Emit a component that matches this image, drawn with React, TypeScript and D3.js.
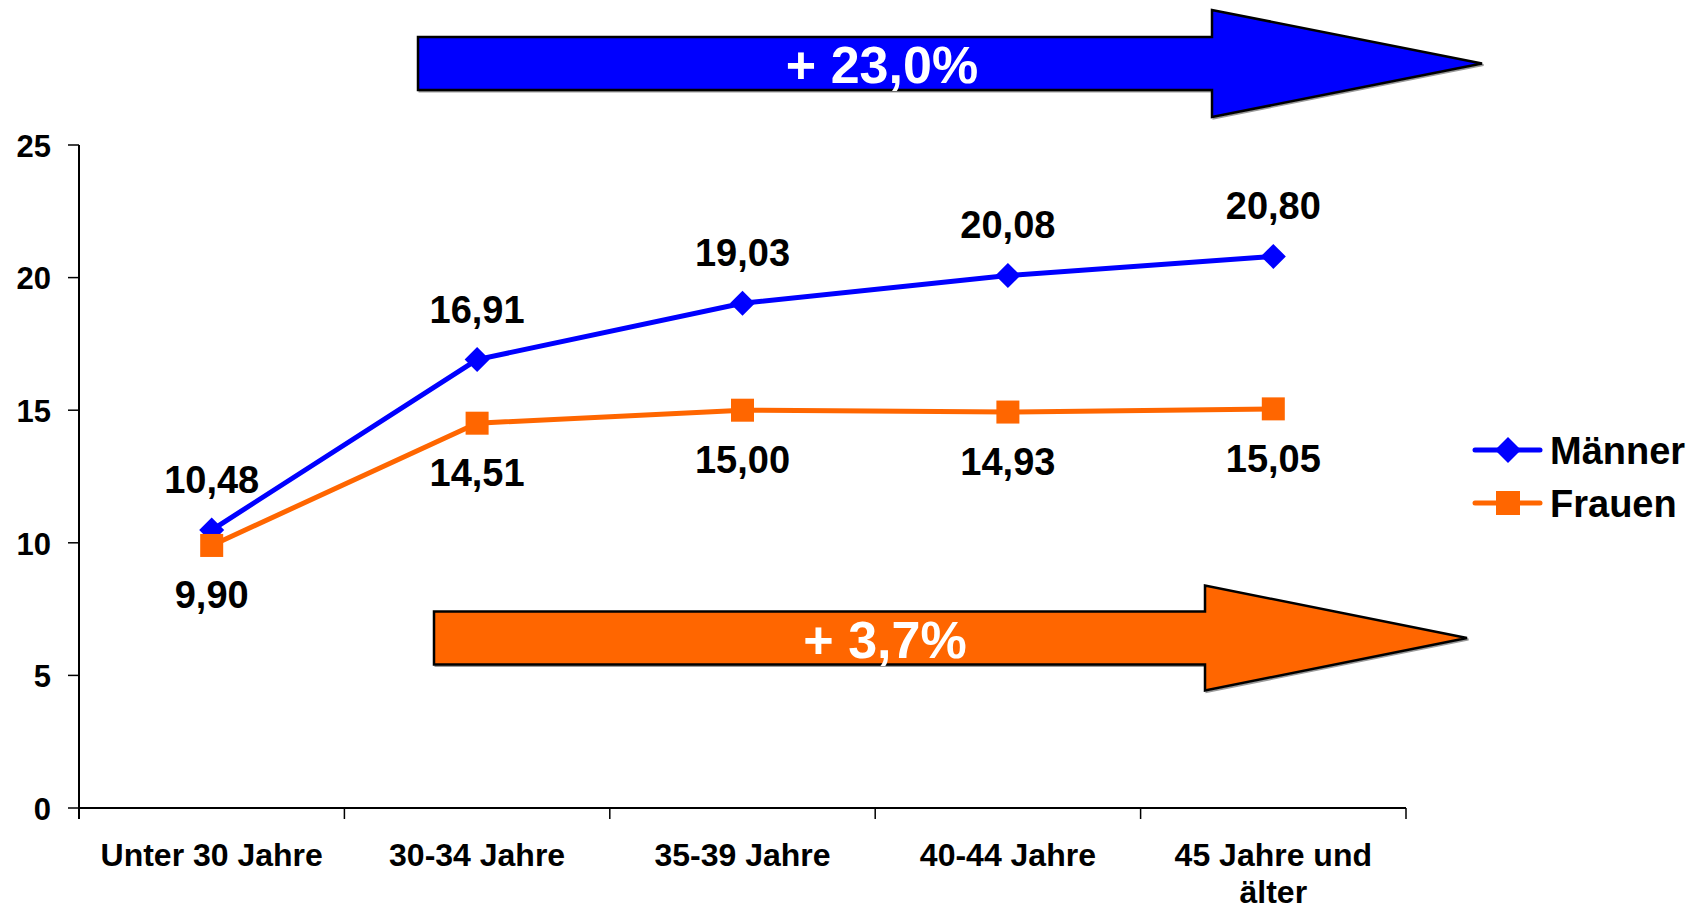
import React from "react";
import * as d3 from "d3";

const categories = ["Unter 30 Jahre", "30-34 Jahre", "35-39 Jahre", "40-44 Jahre", "45 Jahre und\nälter"];
const maenner = [10.48, 16.91, 19.03, 20.08, 20.8];
const frauen = [9.9, 14.51, 15.0, 14.93, 15.05];
const yTicks = [0, 5, 10, 15, 20, 25];
const seriesNames = ["Männer", "Frauen"];
const changeLabels = ["+ 23,0%", "+ 3,7%"];

const W = 1700;
const H = 912;
const m = { t: 145, r: 294, b: 104, l: 79 };
const FONT = "'Liberation Sans', Arial, Helvetica, sans-serif";
const BLUE = "#0000ff";
const ORANGE = "#ff6600";

const de = d3.formatLocale({ decimal: ",", thousands: ".", grouping: [3], currency: ["", " €"] });
const fmt = de.format(".2f");

// arrow outline: body from x0 to notch, head to the tip
const arrowPath = (x0: number, notch: number, tip: number, cy: number, bodyH: number, headH: number) => {
    const p = d3.path();
    p.moveTo(x0, cy - bodyH / 2);
    p.lineTo(notch, cy - bodyH / 2);
    p.lineTo(notch, cy - headH / 2);
    p.lineTo(tip, cy);
    p.lineTo(notch, cy + headH / 2);
    p.lineTo(notch, cy + bodyH / 2);
    p.lineTo(x0, cy + bodyH / 2);
    p.closePath();
    return p.toString();
};

const Diamond = ({ x, y, r, fill }: { x: number; y: number; r: number; fill: string }) => (
    <path d={`M${x},${y - r}L${x + r},${y}L${x},${y + r}L${x - r},${y}Z`} fill={fill} />
);

export default function App() {
    const x = d3.scaleBand<number>()
        .domain(d3.range(categories.length))
        .range([m.l, W - m.r]);
    const y = d3.scaleLinear().domain([0, 25]).range([H - m.b, m.t]);
    const cx = (i: number) => (x(i) as number) + x.bandwidth() / 2;

    const line = d3.line<number>()
        .x((_, i) => cx(i))
        .y((d) => y(d));

    const boundaries = d3.range(categories.length + 1).map((i) => m.l + i * x.bandwidth());

    const arrows = [
        { x0: 418, notch: 1212, tip: 1482, cy: 63.5, bodyH: 53, headH: 107, fill: BLUE, tx: 882, ty: 83 },
        { x0: 434, notch: 1205, tip: 1467, cy: 638, bodyH: 53, headH: 105, fill: ORANGE, tx: 885, ty: 658 },
    ];

    return (
        <svg width={W} height={H} style={{ position: "absolute", left: 0, top: 0 }} fontFamily={FONT} fontWeight="bold">
            <rect width={W} height={H} fill="#fff" />

            {/* y axis */}
            <line x1={m.l} x2={m.l} y1={y(25)} y2={y(0) + 11} stroke="#000" strokeWidth={2} />
            {yTicks.map((t) => (
                <g key={t}>
                    <line x1={m.l - 11} x2={m.l} y1={y(t)} y2={y(t)} stroke="#000" strokeWidth={1.5} />
                    <text x={51} y={y(t)} dy="0.38em" textAnchor="end" fontSize={31}>{t}</text>
                </g>
            ))}

            {/* x axis */}
            <line x1={m.l} x2={W - m.r} y1={y(0)} y2={y(0)} stroke="#000" strokeWidth={2} />
            {boundaries.map((b, i) => (
                <line key={i} x1={b} x2={b} y1={y(0)} y2={y(0) + 11} stroke="#000" strokeWidth={1.5} />
            ))}
            {categories.map((c, i) => (
                <text key={c} x={cx(i)} y={866} textAnchor="middle" fontSize={32}>
                    {c.split("\n").map((s, j) => (
                        <tspan key={j} x={cx(i)} dy={j === 0 ? 0 : 37}>{s}</tspan>
                    ))}
                </text>
            ))}

            {/* lines */}
            <path d={line(maenner) || ""} fill="none" stroke={BLUE} strokeWidth={5} />
            <path d={line(frauen) || ""} fill="none" stroke={ORANGE} strokeWidth={5} />
            {maenner.map((v, i) => (
                <Diamond key={i} x={cx(i)} y={y(v)} r={12.5} fill={BLUE} />
            ))}
            {frauen.map((v, i) => (
                <rect key={i} x={cx(i) - 11.5} y={y(v) - 11.5} width={23} height={23} fill={ORANGE} />
            ))}

            {/* value labels */}
            {maenner.map((v, i) => (
                <text key={i} x={cx(i)} y={y(v) - 37} textAnchor="middle" fontSize={38}>{fmt(v)}</text>
            ))}
            {frauen.map((v, i) => (
                <text key={i} x={cx(i)} y={y(v) + 63} textAnchor="middle" fontSize={38}>{fmt(v)}</text>
            ))}

            {/* change arrows */}
            {arrows.map((a, i) => (
                <g key={i}>
                    <path d={arrowPath(a.x0 + 1.5, a.notch + 1.5, a.tip + 1.5, a.cy + 1.5, a.bodyH, a.headH)} fill="none" stroke="#999" strokeWidth={2} />
                    <path d={arrowPath(a.x0, a.notch, a.tip, a.cy, a.bodyH, a.headH)} fill={a.fill} stroke="#000" strokeWidth={2.5} />
                    <text x={a.tx} y={a.ty} textAnchor="middle" fontSize={52} fill="#fff">{changeLabels[i]}</text>
                </g>
            ))}

            {/* legend */}
            {seriesNames.map((s, i) => {
                const ly = 450 + i * 53;
                const col = i === 0 ? BLUE : ORANGE;
                return (
                    <g key={s}>
                        <line x1={1475} x2={1540} y1={ly} y2={ly} stroke={col} strokeWidth={5} strokeLinecap="round" />
                        {i === 0
                            ? <Diamond x={1508} y={ly} r={13} fill={col} />
                            : <rect x={1508 - 12} y={ly - 12} width={24} height={24} fill={col} />}
                        <text x={1550} y={ly + 14} fontSize={38}>{s}</text>
                    </g>
                );
            })}
        </svg>
    );
}
